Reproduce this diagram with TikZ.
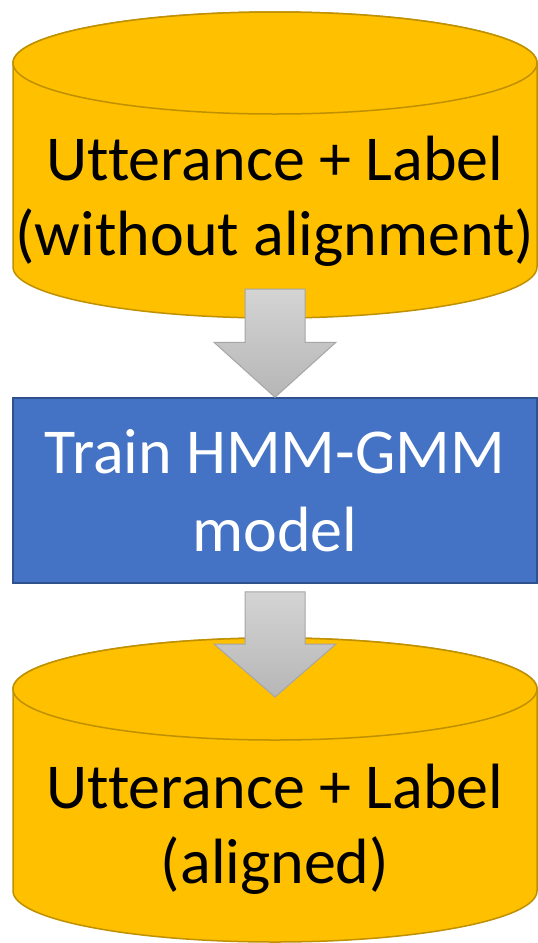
\documentclass[tikz,border=0pt]{standalone}
\usepackage{fontspec}
\setmainfont{Carlito}[Ligatures=NoCommon]
\usetikzlibrary{calc}
\definecolor{dbyellow}{HTML}{FFC000}
\definecolor{dbedge}{HTML}{BF9000}
\definecolor{boxblue}{HTML}{4472C4}
\definecolor{boxedge}{HTML}{2F528F}
\definecolor{arrowtop}{HTML}{D4D4D4}
\definecolor{arrowbot}{HTML}{B6B6B6}
\definecolor{arrowedge}{HTML}{A6A6A6}
\tikzset{database/.style={fill=dbyellow, draw=dbedge, line width=1.5pt},
         dblabel/.style={align=center, text=black, font=\fontsize{64}{75}\selectfont},
         trainbox/.style={fill=boxblue, draw=boxedge, line width=1.5pt, text=white,
                          align=center, font=\fontsize{64}{78}\selectfont,
                          minimum width=524pt, minimum height=185pt, inner sep=0pt},
         flowarrow/.style={draw=arrowedge, line width=1pt, top color=arrowtop, bottom color=arrowbot}}

\begin{document}
\begin{tikzpicture}[x=1pt,y=-1pt]
                \useasboundingbox[fill=white] (0,0) rectangle (538,943);

                % input data
                \path[database] (13,63) -- (13,267) arc[start angle=180, end angle=0, x radius=262, y radius=51]
                      -- (537,63) arc[start angle=0, end angle=-180, x radius=262, y radius=51] -- cycle;
                \draw[database] (275,63) ellipse[x radius=262, y radius=51];
                \node[dblabel] (raw) at (275,201) {Utterance + Label\\(without alignment)};

                \coordinate (a1) at (275,289);

                % training step
                \node[trainbox] (train) at (275,490.5) {Train HMM-GMM\\model};

                \draw[flowarrow] ($(a1)+(-30,0)$) -- ($(a1)+(30,0)$) -- ($(train.north)+(30,-55)$)
                      -- ($(train.north)+(61,-55)$) -- (train.north) -- ($(train.north)+(-61,-55)$)
                      -- ($(train.north)+(-30,-55)$) -- cycle;

                % output data
                \path[database] (13,689) -- (13,891) arc[start angle=180, end angle=0, x radius=262, y radius=51]
                      -- (537,689) arc[start angle=0, end angle=-180, x radius=262, y radius=51] -- cycle;
                \draw[database] (275,689) ellipse[x radius=262, y radius=51];
                \node[dblabel] (aligned) at (275,829) {Utterance + Label\\(aligned)};

                \coordinate (a2) at (275,697);

                \draw[flowarrow] ($(train.south)+(-30,8)$) -- ($(train.south)+(30,8)$) -- ($(a2)+(30,-53)$)
                      -- ($(a2)+(61,-53)$) -- (a2) -- ($(a2)+(-61,-53)$)
                      -- ($(a2)+(-30,-53)$) -- cycle;
\end{tikzpicture}
\end{document}
